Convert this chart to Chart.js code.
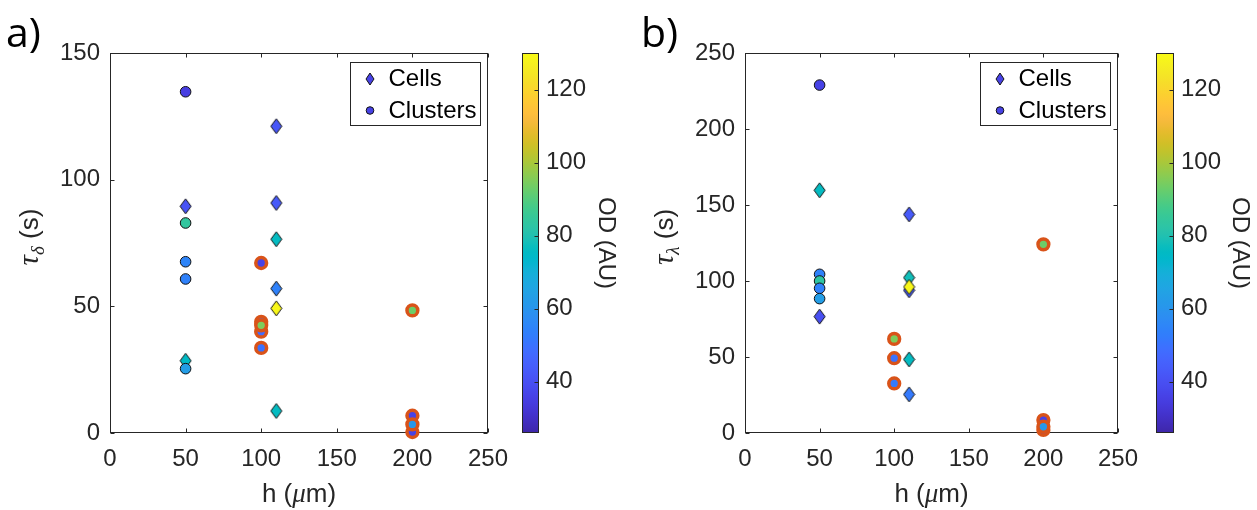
<!DOCTYPE html>
<html>
<head>
<meta charset="utf-8">
<script src="https://cdn.jsdelivr.net/npm/chart.js@4/dist/chart.umd.min.js"></script>
<style>
  html, body { margin: 0; padding: 0; background: #fff; }
  #wrap { position: relative; width: 1257px; height: 510px; overflow: hidden; background: #fff; }
  #wrap canvas { position: absolute; top: 0; }
  .tag { position: absolute; font-family: "Open Sans", sans-serif; font-size: 41px; line-height: 1; color: #000; }
</style>
</head>
<body>
<div id="wrap">
  <canvas id="scatterA" width="520" height="510" style="left:0px"></canvas>
  <canvas id="barA" width="140" height="510" style="left:500px"></canvas>
  <canvas id="scatterB" width="520" height="510" style="left:630px"></canvas>
  <canvas id="barB" width="123" height="510" style="left:1134px"></canvas>
  <div class="tag" style="left:6px;top:11px">a)</div>
  <div class="tag" style="left:641px;top:11px">b)</div>
</div>
<script>
// ---- axis ticks ----
const hTicks = [0, 50, 100, 150, 200, 250];
const tauDeltaTicks = [0, 50, 100, 150];
const tauLambdaTicks = [0, 50, 100, 150, 200, 250];
const odTicks = [40, 60, 80, 100, 120];
const odRange = [26, 130];

// ---- panel a: tau_delta (s) vs h (um) ----
const cellsA_h   = [50, 50, 110, 110, 110, 110, 110, 110];
const cellsA_tau = [89.5, 28.5, 121.1, 90.8, 76.5, 57.0, 49.2, 8.7];
const cellsA_od  = [41, 75, 42, 43, 76, 54, 129, 76];

const clustersA_h   = [50, 50, 50, 50, 50];
const clustersA_tau = [134.7, 82.9, 67.6, 60.8, 25.4];
const clustersA_od  = [35, 84, 55, 54, 63];

const ringA_h   = [100, 100, 100, 100, 100, 200, 200, 200, 200];
const ringA_tau = [67.1, 33.6, 43.9, 40.0, 42.5, 48.4, 6.8, 0.4, 3.4];
const ringA_od  = [36, 50, 48, 48, 95, 93, 36, 36, 61];

// ---- panel b: tau_lambda (s) vs h (um) ----
const cellsB_h   = [50, 50, 110, 110, 110, 110, 110, 110];
const cellsB_tau = [159.7, 76.6, 143.8, 102.2, 93.9, 96.1, 48.4, 25.4];
const cellsB_od  = [76, 40, 43, 78, 44, 129, 76, 52];

const clustersB_h   = [50, 50, 50, 50, 50];
const clustersB_tau = [228.9, 104.4, 100.0, 95.2, 88.4];
const clustersB_od  = [36, 54, 83, 54, 63];

const ringB_h   = [100, 100, 100, 200, 200, 200, 200];
const ringB_tau = [61.9, 49.2, 32.6, 124.1, 8.5, 2.0, 4.1];
const ringB_od  = [95, 50, 52, 93, 36, 38, 61];

// ---- parula colormap (64 entries) ----
const PARULA = [
 [.2422,.1504,.6603],[.2504,.1650,.7076],[.2578,.1818,.7511],[.2647,.1978,.7952],
 [.2706,.2147,.8364],[.2751,.2342,.8710],[.2783,.2559,.8991],[.2803,.2782,.9221],
 [.2813,.3006,.9414],[.2810,.3228,.9579],[.2795,.3447,.9717],[.2760,.3667,.9829],
 [.2699,.3892,.9906],[.2602,.4123,.9952],[.2440,.4358,.9988],[.2206,.4603,.9973],
 [.1963,.4847,.9892],[.1834,.5074,.9798],[.1786,.5289,.9682],[.1764,.5499,.9520],
 [.1687,.5703,.9359],[.1540,.5902,.9218],[.1460,.6091,.9079],[.1380,.6276,.8973],
 [.1248,.6459,.8883],[.1113,.6635,.8763],[.0952,.6798,.8598],[.0689,.6948,.8394],
 [.0297,.7082,.8163],[.0036,.7203,.7917],[.0067,.7312,.7660],[.0433,.7411,.7394],
 [.0964,.7500,.7120],[.1408,.7584,.6842],[.1717,.7670,.6554],[.1938,.7758,.6251],
 [.2161,.7843,.5923],[.2470,.7918,.5567],[.2906,.7973,.5188],[.3406,.8008,.4789],
 [.3909,.8029,.4354],[.4456,.8024,.3909],[.5044,.7993,.3480],[.5616,.7942,.3045],
 [.6174,.7876,.2612],[.6720,.7793,.2227],[.7242,.7698,.1910],[.7738,.7598,.1646],
 [.8203,.7498,.1535],[.8634,.7406,.1596],[.9035,.7330,.1774],[.9393,.7288,.2100],
 [.9728,.7298,.2394],[.9956,.7434,.2371],[.9970,.7659,.2199],[.9952,.7893,.2028],
 [.9892,.8136,.1885],[.9786,.8386,.1766],[.9676,.8639,.1643],[.9610,.8890,.1537],
 [.9597,.9135,.1423],[.9628,.9373,.1265],[.9691,.9606,.1064],[.9769,.9839,.0805]
];
function rgb(c) { return `rgb(${Math.round(c[0]*255)},${Math.round(c[1]*255)},${Math.round(c[2]*255)})`; }
function parula(t) {
  t = Math.min(1, Math.max(0, t));
  const f = t * (PARULA.length - 1);
  const i = Math.min(PARULA.length - 2, Math.floor(f));
  const u = f - i, a = PARULA[i], b = PARULA[i + 1];
  return rgb([a[0] + (b[0]-a[0])*u, a[1] + (b[1]-a[1])*u, a[2] + (b[2]-a[2])*u]);
}
function odColor(v) { return parula((v - odRange[0]) / (odRange[1] - odRange[0])); }

// diamond marker sprite, taller than wide
const diamondCache = {};
function diamond(color, w = 11, h = 15) {
  const key = color + '|' + w + 'x' + h;
  if (diamondCache[key]) return diamondCache[key];
  const c = document.createElement('canvas');
  c.width = w + 2; c.height = h + 2;
  const g = c.getContext('2d');
  g.beginPath();
  g.moveTo(c.width / 2, 1);
  g.lineTo(c.width - 1, c.height / 2);
  g.lineTo(c.width / 2, c.height - 1);
  g.lineTo(1, c.height / 2);
  g.closePath();
  g.fillStyle = color; g.fill();
  g.lineWidth = 1; g.strokeStyle = '#111'; g.stroke();
  return (diamondCache[key] = c);
}

const AXIS = '#262626';
const tickFont = { family: '"Liberation Sans", Arial, sans-serif', size: 24 };
const pts = (hs, ts) => hs.map((h, i) => ({ x: h, y: ts[i] }));

// box frame with inward ticks on all four sides (drawn under the markers)
const framePlugin = {
  id: 'frame',
  beforeDatasetsDraw(chart) {
    const { ctx, chartArea: a, scales: { x, y } } = chart;
    const L = Math.round(a.left) + 0.5, R = Math.round(a.right) - 0.5;
    const T = Math.round(a.top) + 0.5, B = Math.round(a.bottom) - 0.5;
    ctx.save();
    ctx.strokeStyle = AXIS; ctx.lineWidth = 1;
    ctx.strokeRect(L, T, R - L, B - T);
    ctx.beginPath();
    x.ticks.forEach(t => {
      const p = Math.round(x.getPixelForValue(t.value)) + 0.5;
      ctx.moveTo(p, B); ctx.lineTo(p, B - 4);
      ctx.moveTo(p, T); ctx.lineTo(p, T + 4);
    });
    y.ticks.forEach(t => {
      const p = Math.round(y.getPixelForValue(t.value)) + 0.5;
      ctx.moveTo(L, p); ctx.lineTo(L + 4, p);
      ctx.moveTo(R, p); ctx.lineTo(R - 4, p);
    });
    ctx.stroke();
    ctx.restore();
  }
};

// boxed legend in the upper-right corner of the plot
const legendPlugin = {
  id: 'boxLegend',
  afterDraw(chart) {
    const { ctx, chartArea: a } = chart;
    const w = 130, h = 63;
    const bx = Math.round(a.right - 8 - w), by = Math.round(a.top + 9);
    ctx.save();
    ctx.fillStyle = '#fff'; ctx.fillRect(bx, by, w, h);
    ctx.strokeStyle = AXIS; ctx.lineWidth = 1;
    ctx.strokeRect(bx + 0.5, by + 0.5, w, h);
    const swatch = odColor(36);
    chart.data.datasets.slice(0, 2).forEach((ds, i) => {
      const cy = by + 16.5 + i * 32, mx = bx + 20;
      if (i === 0) {
        const d = diamond(swatch, 8, 12);
        ctx.drawImage(d, Math.round(mx - d.width / 2), Math.round(cy - d.height / 2));
      } else {
        ctx.beginPath(); ctx.arc(mx, cy, 3.8, 0, Math.PI * 2);
        ctx.fillStyle = swatch; ctx.fill();
        ctx.strokeStyle = '#111'; ctx.lineWidth = 1; ctx.stroke();
      }
      ctx.fillStyle = '#000';
      ctx.font = '24px "Liberation Sans", Arial, sans-serif';
      ctx.textBaseline = 'middle'; ctx.textAlign = 'left';
      ctx.fillText(ds.label, bx + 38.5, cy + 1);
    });
    ctx.restore();
  }
};

// axis titles with Greek symbols and a subscript
function titlesPlugin(sub) {
  return {
    id: 'axisTitles',
    afterDraw(chart) {
      const { ctx, chartArea: a } = chart;
      const sans = '26px "Liberation Sans", Arial, sans-serif';
      const ital = 'italic 27px "Liberation Serif", serif';
      const italBig = 'italic 29px "Liberation Serif", serif';
      const italSub = 'italic 19px "Liberation Serif", serif';
      ctx.save();
      ctx.fillStyle = AXIS; ctx.textBaseline = 'alphabetic'; ctx.textAlign = 'left';
      const run = (parts, x0, y0) => {
        let w = 0;
        parts.forEach(p => { ctx.font = p[0]; w += ctx.measureText(p[1]).width; });
        let x = x0 - w / 2;
        parts.forEach(p => { ctx.font = p[0]; ctx.fillText(p[1], x, y0 + (p[2] || 0)); x += ctx.measureText(p[1]).width; });
      };
      run([[sans, 'h ('], [ital, 'μ'], [sans, 'm)']], (a.left + a.right) / 2, 502);
      ctx.translate(a.left - 72, (a.top + a.bottom) / 2 - 6);
      ctx.rotate(-Math.PI / 2);
      run([[italBig, 'τ'], [italSub, sub, 6], [sans, ' (s)']], 0, 0);
      ctx.restore();
    }
  };
}

function scatterChart(id, d) {
  return new Chart(document.getElementById(id), {
    type: 'scatter',
    data: {
      datasets: [
        { label: 'Cells', data: pts(d.cellsH, d.cellsTau), clip: false, order: 3,
          pointStyle: c => diamond(odColor(d.cellsOd[c.dataIndex])), pointRadius: 7 },
        { label: 'Clusters', data: pts(d.clH, d.clTau), clip: false, order: 2,
          pointStyle: 'circle', pointRadius: 5.3, pointBorderWidth: 1, pointBorderColor: '#111',
          pointBackgroundColor: c => odColor(d.clOd[c.dataIndex]) },
        { label: 'Clusters', data: pts(d.rgH, d.rgTau), clip: false, order: 1,
          pointStyle: 'circle', pointRadius: 5.4, pointBorderWidth: 3.5, pointBorderColor: '#D95319',
          pointBackgroundColor: c => odColor(d.rgOd[c.dataIndex]) }
      ]
    },
    options: {
      responsive: false, animation: false, events: [],
      layout: { padding: { left: 0, top: 53, right: d.padRight, bottom: 0 } },
      plugins: { legend: { display: false }, tooltip: { enabled: false } },
      scales: {
        x: {
          type: 'linear', min: 0, max: 250,
          afterBuildTicks: s => { s.ticks = hTicks.map(v => ({ value: v })); },
          afterFit: s => { s.height = 77; },
          grid: { display: false, drawTicks: false }, border: { display: false },
          ticks: { padding: 12, font: tickFont, color: AXIS, maxRotation: 0 }
        },
        y: {
          type: 'linear', min: 0, max: d.yMax,
          afterBuildTicks: s => { s.ticks = d.yTicks.map(v => ({ value: v })); },
          afterFit: s => { s.width = d.yWidth; },
          grid: { display: false, drawTicks: false }, border: { display: false },
          ticks: { padding: 10, font: tickFont, color: AXIS }
        }
      }
    },
    plugins: [framePlugin, legendPlugin, titlesPlugin(d.sub)]
  });
}

// gradient colour bar with its own OD scale
const colorbarPlugin = {
  id: 'colorbar',
  beforeDatasetsDraw(chart) {
    const { ctx, chartArea: a, scales: { y } } = chart;
    const y0 = y.getPixelForValue(odRange[0]), y1 = y.getPixelForValue(odRange[1]);
    const g = ctx.createLinearGradient(0, y0, 0, y1);
    PARULA.forEach((c, i) => g.addColorStop(i / (PARULA.length - 1), rgb(c)));
    ctx.save();
    ctx.fillStyle = g;
    ctx.fillRect(a.left, y1, a.right - a.left, y0 - y1);
    ctx.strokeStyle = AXIS; ctx.lineWidth = 1;
    const L = Math.round(a.left) + 0.5, R = Math.round(a.right) - 0.5;
    ctx.strokeRect(L, Math.round(y1) + 0.5, R - L, Math.round(y0 - y1) - 1);
    ctx.beginPath();
    y.ticks.forEach(t => {
      const p = Math.round(y.getPixelForValue(t.value)) + 0.5;
      ctx.moveTo(R, p); ctx.lineTo(R - 4, p);
    });
    ctx.stroke();
    ctx.restore();
  }
};

function colorbarChart(id, barWidth, titlePad) {
  const el = document.getElementById(id);
  return new Chart(el, {
    type: 'scatter',
    data: { datasets: [] },
    options: {
      responsive: false, animation: false, events: [],
      layout: { padding: { left: 22, top: 53, right: 0, bottom: 77 } },
      plugins: { legend: { display: false }, tooltip: { enabled: false } },
      scales: {
        x: { display: false, min: 0, max: 1 },
        y: {
          position: 'right', min: odRange[0], max: odRange[1],
          afterBuildTicks: s => { s.ticks = odTicks.map(v => ({ value: v })); },
          afterFit: s => { s.width = el.width - 22 - barWidth; },
          grid: { display: false, drawTicks: false }, border: { display: false },
          ticks: { padding: 7, font: tickFont, color: AXIS },
          title: { display: true, text: 'OD (AU)', color: AXIS,
                   font: { family: '"Liberation Sans", Arial, sans-serif', size: 24 },
                   padding: { top: titlePad, bottom: 0 } }
        }
      }
    },
    plugins: [colorbarPlugin]
  });
}

scatterChart('scatterA', {
  cellsH: cellsA_h, cellsTau: cellsA_tau, cellsOd: cellsA_od,
  clH: clustersA_h, clTau: clustersA_tau, clOd: clustersA_od,
  rgH: ringA_h, rgTau: ringA_tau, rgOd: ringA_od,
  yMax: 150, yTicks: tauDeltaTicks, yWidth: 110, padRight: 29, sub: 'δ'
});
colorbarChart('barA', 17, 19.6);

scatterChart('scatterB', {
  cellsH: cellsB_h, cellsTau: cellsB_tau, cellsOd: cellsB_od,
  clH: clustersB_h, clTau: clustersB_tau, clOd: clustersB_od,
  rgH: ringB_h, rgTau: ringB_tau, rgOd: ringB_od,
  yMax: 250, yTicks: tauLambdaTicks, yWidth: 115, padRight: 24, sub: 'λ'
});
colorbarChart('barB', 18, 2.6);
</script>
</body>
</html>
